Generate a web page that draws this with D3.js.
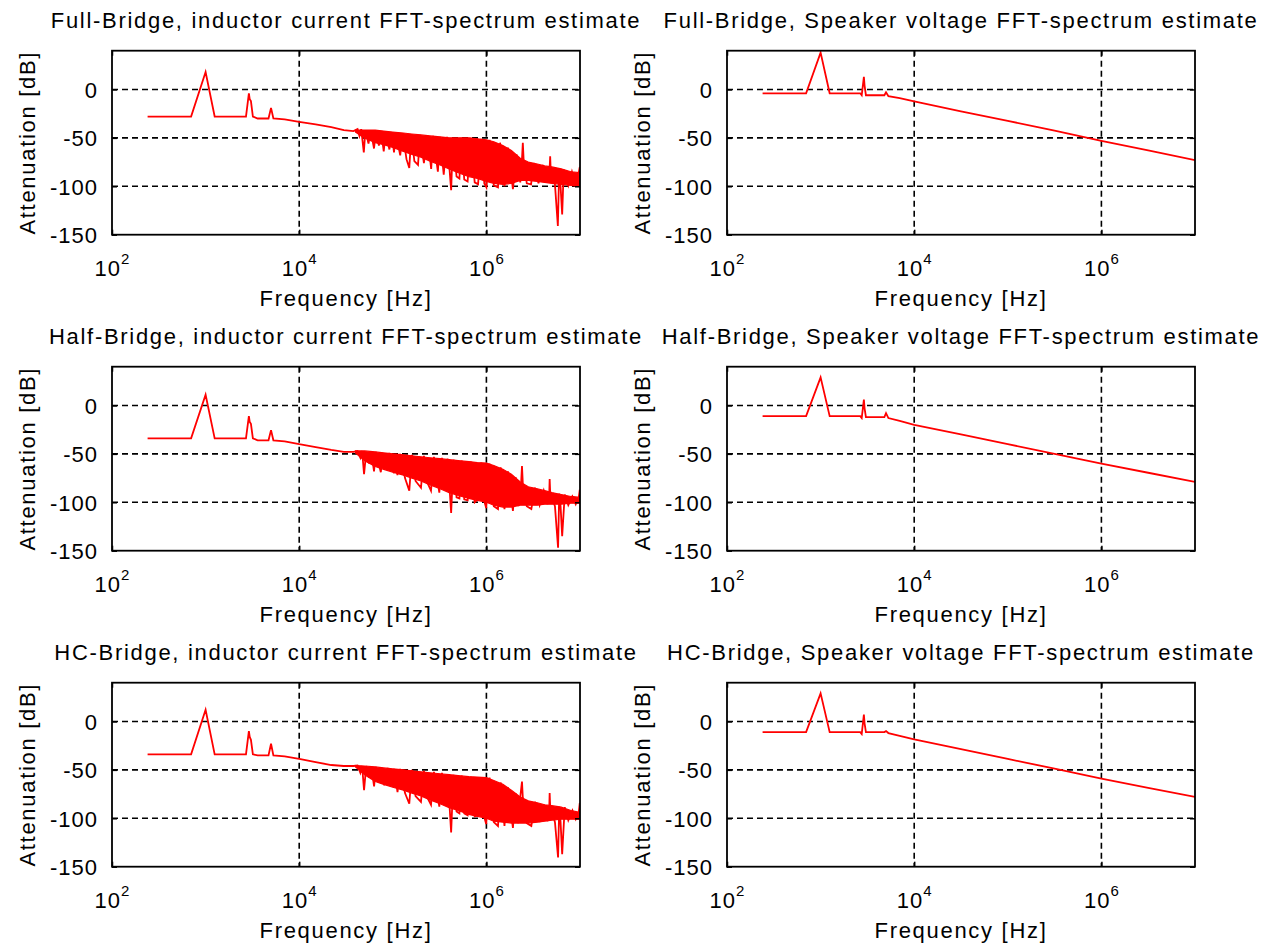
<!doctype html>
<html lang="en">
<head>
<meta charset="UTF-8">
<title>FFT spectrum estimates</title>
<style>
  body { margin: 0; background: #fff; }
  svg text { font-family: Arial, "Liberation Sans", Helvetica, sans-serif; fill: #000; }
</style>
</head>
<body>
<div class="container"></div>

<script src="https://d3js.org/d3.v7.min.js"></script>

<script>
  // ---- data: [frequency Hz, dB] ----
  const fbCurTrace = [[240,-28],[700,-28],[1000,18],[1250,-28],[2700,-28],[2900,-4],[2960,-10],[3050,-12],[3200,-28],
    [3600,-30],[4700,-30],[5000,-19],[5300,-30],[7000,-31],[10000,-33.5],[15000,-36],[22000,-39],[30000,-42],[38000,-43],
    [42000,-41],[44000,-48],[46000,-41],[49000,-65],[51000,-42],[55000,-56],[58000,-42],[63000,-61],[66000,-43],[71000,-58],
    [75000,-43],[80000,-64],[84000,-44],[92000,-62],[97000,-44],[103000,-65],[108000,-45],[120000,-68],[128000,-45],
    [140000,-72],[150000,-81],[158000,-46],[170000,-74],[186000,-78],[195000,-47],[215000,-76],[235000,-48],[257000,-82],
    [270000,-48],[303000,-85],[320000,-49],[350000,-88],[380000,-49],[420000,-104],[440000,-50],[480000,-90],[515000,-92],
    [540000,-50],[580000,-93],[630000,-95],[680000,-50],[750000,-96],[815000,-98],[880000,-51],[950000,-97],[1000000,-101],
    [1080000,-52],[1200000,-99],[1330000,-101],[1400000,-55],[1560000,-100],[1700000,-60],[1920000,-103],[2100000,-67],
    [2300000,-96],[2400000,-72],[2450000,-55],[2500000,-73],[2700000,-97],[3000000,-98],[3200000,-76],[3600000,-97],
    [4000000,-78],[4500000,-96],[4750000,-79],[4800000,-69],[4850000,-80],[5400000,-98],[5800000,-141],[6000000,-82],
    [6200000,-100],[6450000,-129],[6700000,-83],[7500000,-99],[8200000,-85],[9000000,-100],[9700000,-86],[9950000,-80],[10000000,-98]];

  const hbCurTrace = [[240,-34],[700,-34],[1000,11],[1250,-34],[2700,-34],[2900,-11],[2960,-17],[3050,-19],[3200,-34],
    [3600,-36],[4700,-36],[5000,-25.5],[5300,-36],[7000,-37],[10000,-40],[15000,-43],[22000,-46],[30000,-48],[38000,-48],
    [42000,-47],[45000,-54],[47000,-47],[49300,-71],[52000,-48],[56000,-60],[59000,-48],[63000,-68],[66000,-48],[74500,-69],
    [78000,-49],[86000,-66],[92000,-49],[103000,-70],[108000,-50],[112000,-72],[120000,-50],[135000,-75],[150000,-88],
    [160000,-51],[175000,-78],[200000,-85],[215000,-52],[235000,-80],[256000,-88],[275000,-53],[314000,-90],[335000,-54],
    [360000,-86],[386000,-55],[420000,-111],[445000,-56],[480000,-95],[515000,-96],[545000,-57],[580000,-97],[631000,-98],
    [680000,-58],[750000,-100],[811000,-97],[880000,-59],[950000,-99],[995000,-106],[1080000,-60],[1200000,-104],
    [1330000,-107],[1420000,-64],[1560000,-107],[1700000,-68],[1920000,-109],[2050000,-74],[2200000,-104],[2350000,-80],
    [2400000,-62.5],[2450000,-81],[2700000,-104],[3020000,-107],[3300000,-85],[3700000,-103],[4100000,-88],[4500000,-102],
    [4700000,-89],[4740000,-76],[4800000,-89],[5400000,-104],[5830000,-147],[6000000,-91],[6200000,-104],[6450000,-135],
    [6870000,-92],[7500000,-103],[8300000,-94],[9000000,-102],[9700000,-95],[9950000,-87],[10000000,-100]];

  const hcCurTrace = [[240,-34],[700,-34],[1000,12],[1250,-34],[2700,-34],[2900,-10],[2960,-16],[3050,-19],[3200,-34],
    [3600,-35],[4700,-35],[5000,-23],[5300,-35],[7000,-36],[10000,-38.6],[15000,-42],[22000,-45],[30000,-46],[38000,-46],
    [42000,-45.5],[45000,-53],[47000,-46],[49300,-71],[52000,-46],[56000,-58],[59000,-47],[63100,-67],[66000,-47],[72000,-62],
    [76000,-48],[80900,-66],[88000,-48],[96000,-64],[103000,-49],[112300,-73],[120000,-49],[135000,-74],[150000,-85],
    [160000,-50],[175000,-77],[200000,-83],[215000,-51],[235000,-79],[256000,-86],[275000,-52],[314000,-88],[335000,-53],
    [360000,-85],[386000,-55],[420000,-114.6],[445000,-55],[480000,-93],[515000,-95],[545000,-56],[580000,-95],[631000,-97],
    [680000,-57],[750000,-98],[811000,-97],[880000,-57.5],[950000,-99],[995000,-106],[1080000,-58],[1200000,-104],
    [1330000,-108],[1420000,-63],[1560000,-108],[1700000,-68],[1920000,-110],[2050000,-74],[2180000,-105],[2300000,-78],
    [2400000,-62],[2450000,-79],[2700000,-105],[3020000,-108],[3300000,-83],[3700000,-104],[4100000,-86],[4500000,-103],
    [4700000,-87],[4740000,-74],[4800000,-87],[5400000,-104],[5830000,-140.5],[6000000,-88],[6200000,-104],[6450000,-137],
    [6870000,-88.5],[7500000,-102],[8300000,-92],[9000000,-101],[9700000,-94],[9950000,-84],[10000000,-100]];

  // dense part of the current spectra: [frequency, upper dB, lower dB]
  const fbCurBand = [[40000,-42,-44],[50000,-42,-50],[65000,-42,-55],[80000,-43,-57],[100000,-44,-60],[130000,-45,-64],
    [160000,-46,-67],[200000,-47,-70],[250000,-48,-74],[320000,-49,-78],[400000,-50,-82],[500000,-50,-86],[650000,-50,-90],
    [800000,-51,-92],[1000000,-52,-95],[1200000,-54,-97],[1500000,-58,-98],[1850000,-63,-97],[2300000,-71,-94],
    [2800000,-75,-94],[3500000,-77,-95],[4200000,-79,-96],[5000000,-80,-97],[6300000,-82,-98],[8000000,-85,-99],[10000000,-86,-100]];

  const hbCurBand = [[40000,-47,-49],[50000,-47,-57],[65000,-48,-63],[80000,-49,-66],[100000,-50,-69],[130000,-51,-72],
    [160000,-52,-75],[200000,-53,-78],[250000,-54,-82],[320000,-55,-86],[400000,-56,-90],[500000,-57,-93],[650000,-58,-96],
    [800000,-59,-98],[1000000,-59.5,-100],[1200000,-62,-103],[1500000,-66,-105],[1850000,-71,-105],[2300000,-79,-103],
    [2800000,-84,-103],[3500000,-86,-103],[4200000,-88,-102],[5000000,-90,-102],[6300000,-92,-102],[8000000,-94,-101],[10000000,-95,-101]];

  const hcCurBand = [[40000,-45.5,-47],[50000,-46,-55],[65000,-47,-62],[80000,-48,-65],[100000,-49,-68],[130000,-50,-71],
    [160000,-51,-74],[200000,-52,-77],[250000,-53,-81],[320000,-54,-85],[400000,-55,-89],[500000,-56,-92],[650000,-57,-96],
    [800000,-57.5,-98],[1000000,-58,-100],[1200000,-61,-103],[1500000,-65,-104],[1850000,-71,-105],[2300000,-78,-105],
    [2800000,-82,-105],[3500000,-84,-104],[4200000,-86,-103],[5000000,-87,-102],[6300000,-88.5,-101],[8000000,-92,-101],[10000000,-94,-101]];

  const fbSpkTrace = [[240,-4],[700,-4],[1000,38],[1250,-4],[2650,-4],[2750,-6],[2900,13],[2950,4],[3050,-6],[4800,-6],
    [5000,-3],[5300,-7],[7000,-9],[10000,-12.4],[31600,-22.7],[100000,-32.5],[316000,-42.5],[1000000,-53],[3160000,-63],[10000000,-73]];

  const hbSpkTrace = [[240,-11],[700,-11],[1000,29],[1250,-11],[2650,-11],[2750,-13],[2900,6],[2950,-3],[3050,-12],
    [4800,-12],[5000,-8],[5300,-13],[7000,-16],[10000,-20],[31600,-30],[100000,-40],[316000,-50],[1000000,-60],[3160000,-69.5],[10000000,-79]];

  const hcSpkTrace = [[240,-11],[700,-11],[1000,29],[1250,-11],[2650,-11],[2750,-13],[2900,7],[2950,-2],[3050,-11],
    [4800,-11],[5000,-10],[5300,-12],[7000,-15],[10000,-18.5],[31600,-28.6],[100000,-38.7],[316000,-48.8],[1000000,-59],[3160000,-68.5],[10000000,-78]];

  const titles = [
    'Full-Bridge, inductor current FFT-spectrum estimate', 'Full-Bridge, Speaker voltage FFT-spectrum estimate',
    'Half-Bridge, inductor current FFT-spectrum estimate', 'Half-Bridge, Speaker voltage FFT-spectrum estimate',
    'HC-Bridge, inductor current FFT-spectrum estimate', 'HC-Bridge, Speaker voltage FFT-spectrum estimate'
  ];
  const traces = [fbCurTrace, fbSpkTrace, hbCurTrace, hbSpkTrace, hcCurTrace, hcSpkTrace];
  const bands = [fbCurBand, null, hbCurBand, null, hcCurBand, null];

  const xTicks = [1e2, 1e4, 1e6];
  const yTicks = [0, -50, -100, -150];
  const xGrid = [1e4, 1e6];
  const yGrid = [0, -50, -100];

  // ---- layout ----
  const SVG_WIDTH = 1275;
  const SVG_HEIGHT = 947;
  const COL_X = [112, 727];
  const ROW_Y = [50.7, 366.7, 682.7];
  const PLOT_W = 468;
  const PLOT_H = 184;
  const FONT = 22;
  const LS = '1.7px';

  const svg = d3.select('.container')
    .append('svg')
    .attr('width', SVG_WIDTH)
    .attr('height', SVG_HEIGHT)
    .style('display', 'block')

  const x = d3.scaleLog().domain([1e2, 1e7]).range([0, PLOT_W]);
  const y = d3.scaleLinear().domain([-150, 40]).range([PLOT_H, 0]);

  const line = d3.line().x(d => x(d[0])).y(d => y(d[1]));
  const area = d3.area().x(d => x(d[0])).y0(d => y(d[2])).y1(d => y(d[1]));

  svg.append('defs').append('clipPath').attr('id', 'plotclip')
    .append('rect').attr('width', PLOT_W).attr('height', PLOT_H);

  traces.forEach((trace, i) => {
    const col = i % 2, row = Math.floor(i / 2);
    const g = svg.append('g')
      .attr('transform', `translate(${COL_X[col]}, ${ROW_Y[row]})`);

    g.append('rect')
      .attr('width', PLOT_W).attr('height', PLOT_H)
      .attr('fill', '#fff');

    // dashed grid
    g.selectAll('.gx').data(xGrid).enter().append('line')
      .attr('x1', d => x(d)).attr('x2', d => x(d))
      .attr('y1', 0).attr('y2', PLOT_H)
      .attr('stroke', '#000').attr('stroke-width', 1.6).attr('stroke-dasharray', '6,4');
    g.selectAll('.gy').data(yGrid).enter().append('line')
      .attr('x1', 0).attr('x2', PLOT_W)
      .attr('y1', d => y(d)).attr('y2', d => y(d))
      .attr('stroke', '#000').attr('stroke-width', 1.6).attr('stroke-dasharray', '6,4');

    // data
    const plot = g.append('g').attr('clip-path', 'url(#plotclip)');
    if (bands[i]) {
      plot.append('path').datum(bands[i])
        .attr('d', area)
        .attr('fill', '#ff0000')
        .attr('stroke', '#ff0000').attr('stroke-width', 1.2);
    }
    plot.append('path').datum(trace)
      .attr('d', line)
      .attr('fill', 'none')
      .attr('stroke', '#ff0000')
      .attr('stroke-width', 1.8)
      .attr('stroke-linejoin', 'miter');

    // axes
    const xAxis = g.append('g')
      .attr('transform', `translate(0, ${PLOT_H})`)
      .call(d3.axisBottom(x).tickValues(xTicks).tickSizeInner(-5).tickSizeOuter(0).tickFormat(() => ''));
    g.append('g')
      .call(d3.axisTop(x).tickValues(xTicks).tickSizeInner(-5).tickSizeOuter(0).tickFormat(() => ''));
    const yAxis = g.append('g')
      .call(d3.axisLeft(y).tickValues(yTicks).tickSizeInner(-5).tickSizeOuter(0).tickFormat(d => String(d)));
    g.append('g')
      .attr('transform', `translate(${PLOT_W}, 0)`)
      .call(d3.axisRight(y).tickValues(yTicks).tickSizeInner(-5).tickSizeOuter(0).tickFormat(() => ''));

    g.selectAll('.domain').remove();
    g.selectAll('.tick line').attr('stroke', '#000').attr('stroke-width', 1.5);

    yAxis.selectAll('.tick text')
      .attr('x', -14).attr('dy', '0.36em')
      .attr('font-size', FONT).style('letter-spacing', '1px')
      .attr('font-family', null);

    xAxis.selectAll('.tick text').each(function (d) {
      const t = d3.select(this);
      t.attr('y', 41).attr('dy', null).attr('font-size', FONT).attr('font-family', null)
        .style('letter-spacing', '1px').attr('text-anchor', 'middle');
      t.append('tspan').text('10');
      t.append('tspan').attr('dy', -12).attr('font-size', 15).text(Math.round(Math.log10(d)));
    });

    // frame
    g.append('rect')
      .attr('width', PLOT_W).attr('height', PLOT_H)
      .attr('fill', 'none').attr('stroke', '#000').attr('stroke-width', 1.8);

    // labels
    g.append('text')
      .attr('x', PLOT_W / 2).attr('y', -23)
      .attr('text-anchor', 'middle').attr('font-size', FONT)
      .style('letter-spacing', LS)
      .text(titles[i]);
    g.append('text')
      .attr('x', PLOT_W / 2).attr('y', PLOT_H + 71)
      .attr('text-anchor', 'middle').attr('font-size', FONT)
      .style('letter-spacing', LS)
      .text('Frequency [Hz]');
    g.append('text')
      .attr('transform', `translate(-77, ${PLOT_H / 2}) rotate(-90)`)
      .attr('text-anchor', 'middle').attr('font-size', FONT)
      .style('letter-spacing', LS)
      .text('Attenuation [dB]');
  });
</script>
</body>
</html>
